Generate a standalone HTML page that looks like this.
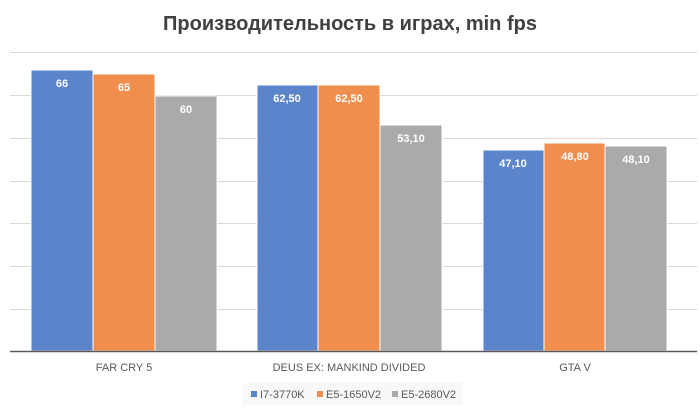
<!DOCTYPE html>
<html><head><meta charset="utf-8"><style>body{margin:0;background:#fff}</style></head><body>
<svg width="700" height="412" xmlns="http://www.w3.org/2000/svg" font-family="Liberation Sans, sans-serif">
<rect width="700" height="412" fill="#fff"/>
<text x="350" y="30" text-anchor="middle" font-size="20" font-weight="bold" fill="#404040">Производительность в играх, min fps</text>
<g stroke="#d9d9d9" stroke-width="1">
<line x1="10" x2="697" y1="52.5" y2="52.5"/><line x1="10" x2="697" y1="95.5" y2="95.5"/>
<line x1="10" x2="697" y1="138.5" y2="138.5"/><line x1="10" x2="697" y1="181.5" y2="181.5"/>
<line x1="10" x2="697" y1="223.5" y2="223.5"/><line x1="10" x2="697" y1="266.5" y2="266.5"/>
<line x1="10" x2="697" y1="309.5" y2="309.5"/>
</g>
<g stroke="#fff" stroke-width="1">
<rect x="31" y="70" width="62" height="281" fill="#5b84cb"/>
<rect x="93" y="74" width="62" height="277" fill="#ef8e4d"/>
<rect x="155" y="96" width="62" height="255" fill="#aaaaaa"/>
<rect x="257" y="85" width="61" height="266" fill="#5b84cb"/>
<rect x="318" y="85" width="62" height="266" fill="#ef8e4d"/>
<rect x="380" y="125" width="62" height="226" fill="#aaaaaa"/>
<rect x="483" y="150" width="61" height="201" fill="#5b84cb"/>
<rect x="544" y="143" width="61" height="208" fill="#ef8e4d"/>
<rect x="605" y="146" width="62" height="205" fill="#aaaaaa"/>
</g>
<line x1="10" x2="697" y1="351.5" y2="351.5" stroke="#595959" stroke-width="1.5"/>
<g fill="#fff" font-size="11" font-weight="bold" text-anchor="middle">
<text x="62" y="87">66</text><text x="124" y="91">65</text><text x="186" y="113">60</text>
<text x="287" y="102">62,50</text><text x="349" y="102">62,50</text><text x="411" y="142">53,10</text>
<text x="513" y="167">47,10</text><text x="575" y="160">48,80</text><text x="636" y="163">48,10</text>
</g>
<g fill="#595959" font-size="11" text-anchor="middle">
<text x="124" y="371">FAR CRY 5</text><text x="349" y="371">DEUS EX: MANKIND DIVIDED</text><text x="575" y="371">GTA V</text>
</g>
<rect x="243" y="383" width="220" height="22" fill="#f8f8f8"/>
<g font-size="11" fill="#595959">
<rect x="251" y="391" width="6" height="6" fill="#5b84cb"/><text x="260" y="398">I7-3770K</text>
<rect x="317" y="391" width="6" height="6" fill="#ef8e4d"/><text x="326" y="398">E5-1650V2</text>
<rect x="392" y="391" width="6" height="6" fill="#aaaaaa"/><text x="401" y="398">E5-2680V2</text>
</g>
</svg>
</body></html>
